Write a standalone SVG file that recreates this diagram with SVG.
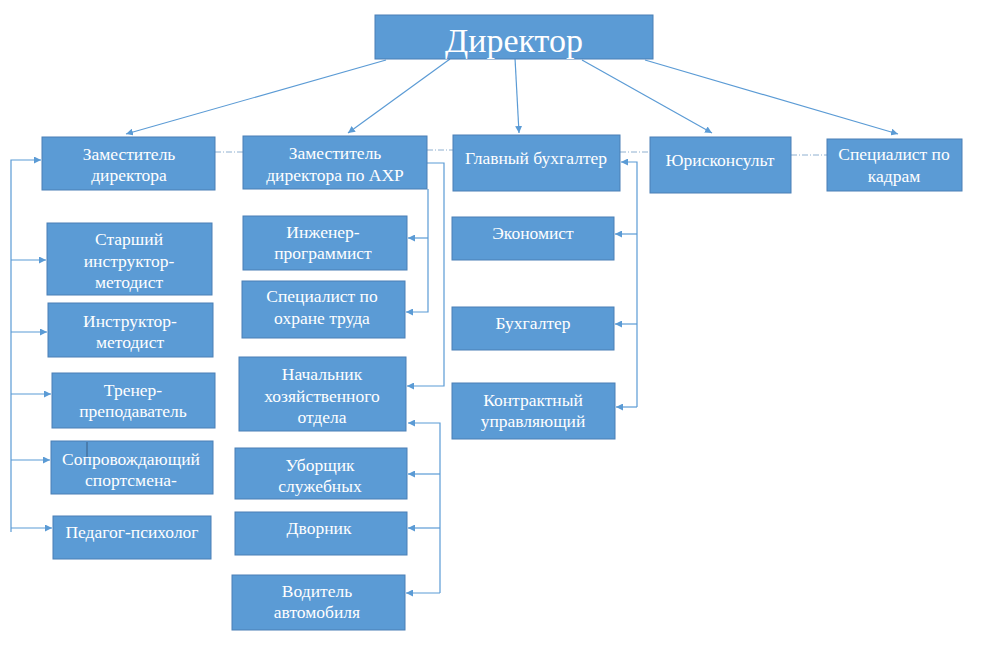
<svg xmlns="http://www.w3.org/2000/svg" width="1000" height="651" viewBox="0 0 1000 651">
<defs>
<style>
.box{fill:#5b9bd5;stroke:#4a7fb5;stroke-width:1}
.t{font-family:"Liberation Serif","Times New Roman",serif;font-size:17.5px;fill:#ffffff;text-anchor:middle}
.big{font-size:34px}
.c{fill:none;stroke:#5b9bd5;stroke-width:1.2}
.d{fill:none;stroke:#8fb0d0;stroke-width:1;stroke-dasharray:6 2 1 2}
</style>
<marker id="ah" viewBox="0 0 10 10" refX="10" refY="5" markerWidth="7" markerHeight="7" markerUnits="userSpaceOnUse" orient="auto">
<path d="M0,0 L10,5 L0,10 z" fill="#5b9bd5"/>
</marker>
</defs>
<rect width="1000" height="651" fill="#ffffff"/>

<g id="connectors">
<line class="c" x1="386" y1="60" x2="126" y2="134" marker-end="url(#ah)"/>
<line class="c" x1="450" y1="59" x2="348" y2="133" marker-end="url(#ah)"/>
<line class="c" x1="515" y1="58" x2="519" y2="133" marker-end="url(#ah)"/>
<line class="c" x1="582" y1="60" x2="712" y2="133" marker-end="url(#ah)"/>
<line class="c" x1="645" y1="60" x2="898" y2="134" marker-end="url(#ah)"/>

<line class="d" x1="215" y1="152" x2="243" y2="152"/>
<line class="d" x1="427" y1="150" x2="453" y2="150"/>
<line class="d" x1="620" y1="152" x2="650" y2="152"/>
<line class="d" x1="791" y1="155" x2="827" y2="155"/>

<polyline class="c" points="11,532 11,160 41,160" marker-end="url(#ah)"/>
<line class="c" x1="11" y1="260" x2="46" y2="260" marker-end="url(#ah)"/>
<line class="c" x1="11" y1="332" x2="47" y2="332" marker-end="url(#ah)"/>
<line class="c" x1="11" y1="394" x2="51" y2="394" marker-end="url(#ah)"/>
<line class="c" x1="11" y1="460" x2="50" y2="460" marker-end="url(#ah)"/>
<line class="c" x1="11" y1="528" x2="52" y2="528" marker-end="url(#ah)"/>

<polyline class="c" points="428,189 428,312 406,312" marker-end="url(#ah)"/>
<line class="c" x1="428" y1="238" x2="408" y2="238" marker-end="url(#ah)"/>
<polyline class="c" points="427,163 444,163 444,386 407,386" marker-end="url(#ah)"/>

<polyline class="c" points="440,593 440,423 408,423" marker-end="url(#ah)"/>
<line class="c" x1="440" y1="474" x2="408" y2="474" marker-end="url(#ah)"/>
<line class="c" x1="440" y1="528" x2="408" y2="528" marker-end="url(#ah)"/>
<line class="c" x1="440" y1="593" x2="406" y2="593" marker-end="url(#ah)"/>

<polyline class="c" points="637,407 637,162 621,162" marker-end="url(#ah)"/>
<line class="c" x1="637" y1="234" x2="615" y2="234" marker-end="url(#ah)"/>
<line class="c" x1="637" y1="324" x2="615" y2="324" marker-end="url(#ah)"/>
<line class="c" x1="637" y1="407" x2="616" y2="407" marker-end="url(#ah)"/>
</g>

<g id="director"><rect class="box" x="375" y="15" width="278" height="44"/><text class="t big" x="514" y="52">Директор</text></g>

<g id="dep-director"><rect class="box" x="42" y="137" width="173" height="53"/><text class="t" x="129" y="160">Заместитель</text><text class="t" x="129" y="181">директора</text></g>
<g id="dep-ahr"><rect class="box" x="243" y="136" width="184" height="53"/><text class="t" x="335" y="159">Заместитель</text><text class="t" x="335" y="181">директора по АХР</text></g>
<g id="chief-accountant"><rect class="box" x="453" y="135" width="167" height="56"/><text class="t" x="536" y="164">Главный бухгалтер</text></g>
<g id="lawyer"><rect class="box" x="650" y="137" width="141" height="56"/><text class="t" x="720" y="166">Юрисконсульт</text></g>
<g id="hr"><rect class="box" x="827" y="139" width="135" height="52"/><text class="t" x="894" y="160">Специалист по</text><text class="t" x="894" y="182">кадрам</text></g>

<g id="senior-instructor"><rect class="box" x="47" y="223" width="165" height="72"/><text class="t" x="129" y="245">Старший</text><text class="t" x="129" y="267">инструктор-</text><text class="t" x="129" y="288">методист</text></g>
<g id="instructor"><rect class="box" x="48" y="303" width="165" height="54"/><text class="t" x="130" y="327">Инструктор-</text><text class="t" x="130" y="348">методист</text></g>
<g id="coach"><rect class="box" x="52" y="373" width="163" height="55"/><text class="t" x="133" y="396">Тренер-</text><text class="t" x="133" y="417">преподаватель</text></g>
<g id="escort"><rect class="box" x="51" y="441" width="162" height="53"/><text class="t" x="131" y="465">Сопровождающий</text><text class="t" x="131" y="486">спортсмена-</text><line x1="87" y1="442" x2="87" y2="457" stroke="#3a5f85" stroke-width="1"/></g>
<g id="psychologist"><rect class="box" x="53" y="516" width="158" height="43"/><text class="t" x="132" y="538">Педагог-психолог</text></g>

<g id="programmer"><rect class="box" x="243" y="216" width="164" height="54"/><text class="t" x="323" y="238">Инженер-</text><text class="t" x="323" y="259">программист</text></g>
<g id="safety"><rect class="box" x="242" y="281" width="163" height="57"/><text class="t" x="322" y="302">Специалист по</text><text class="t" x="322" y="324">охране труда</text></g>
<g id="household-head"><rect class="box" x="239" y="357" width="167" height="74"/><text class="t" x="322" y="380">Начальник</text><text class="t" x="322" y="402">хозяйственного</text><text class="t" x="322" y="423">отдела</text></g>
<g id="cleaner"><rect class="box" x="235" y="448" width="172" height="51"/><text class="t" x="320" y="471">Уборщик</text><text class="t" x="320" y="492">служебных</text></g>
<g id="janitor"><rect class="box" x="235" y="512" width="172" height="43"/><text class="t" x="319" y="534">Дворник</text></g>
<g id="driver"><rect class="box" x="232" y="575" width="173" height="55"/><text class="t" x="317" y="597">Водитель</text><text class="t" x="317" y="618">автомобиля</text></g>

<g id="economist"><rect class="box" x="452" y="217" width="162" height="43"/><text class="t" x="533" y="239">Экономист</text></g>
<g id="accountant"><rect class="box" x="452" y="307" width="162" height="43"/><text class="t" x="533" y="329">Бухгалтер</text></g>
<g id="contract-manager"><rect class="box" x="452" y="383" width="163" height="56"/><text class="t" x="533" y="406">Контрактный</text><text class="t" x="533" y="427">управляющий</text></g>
</svg>
